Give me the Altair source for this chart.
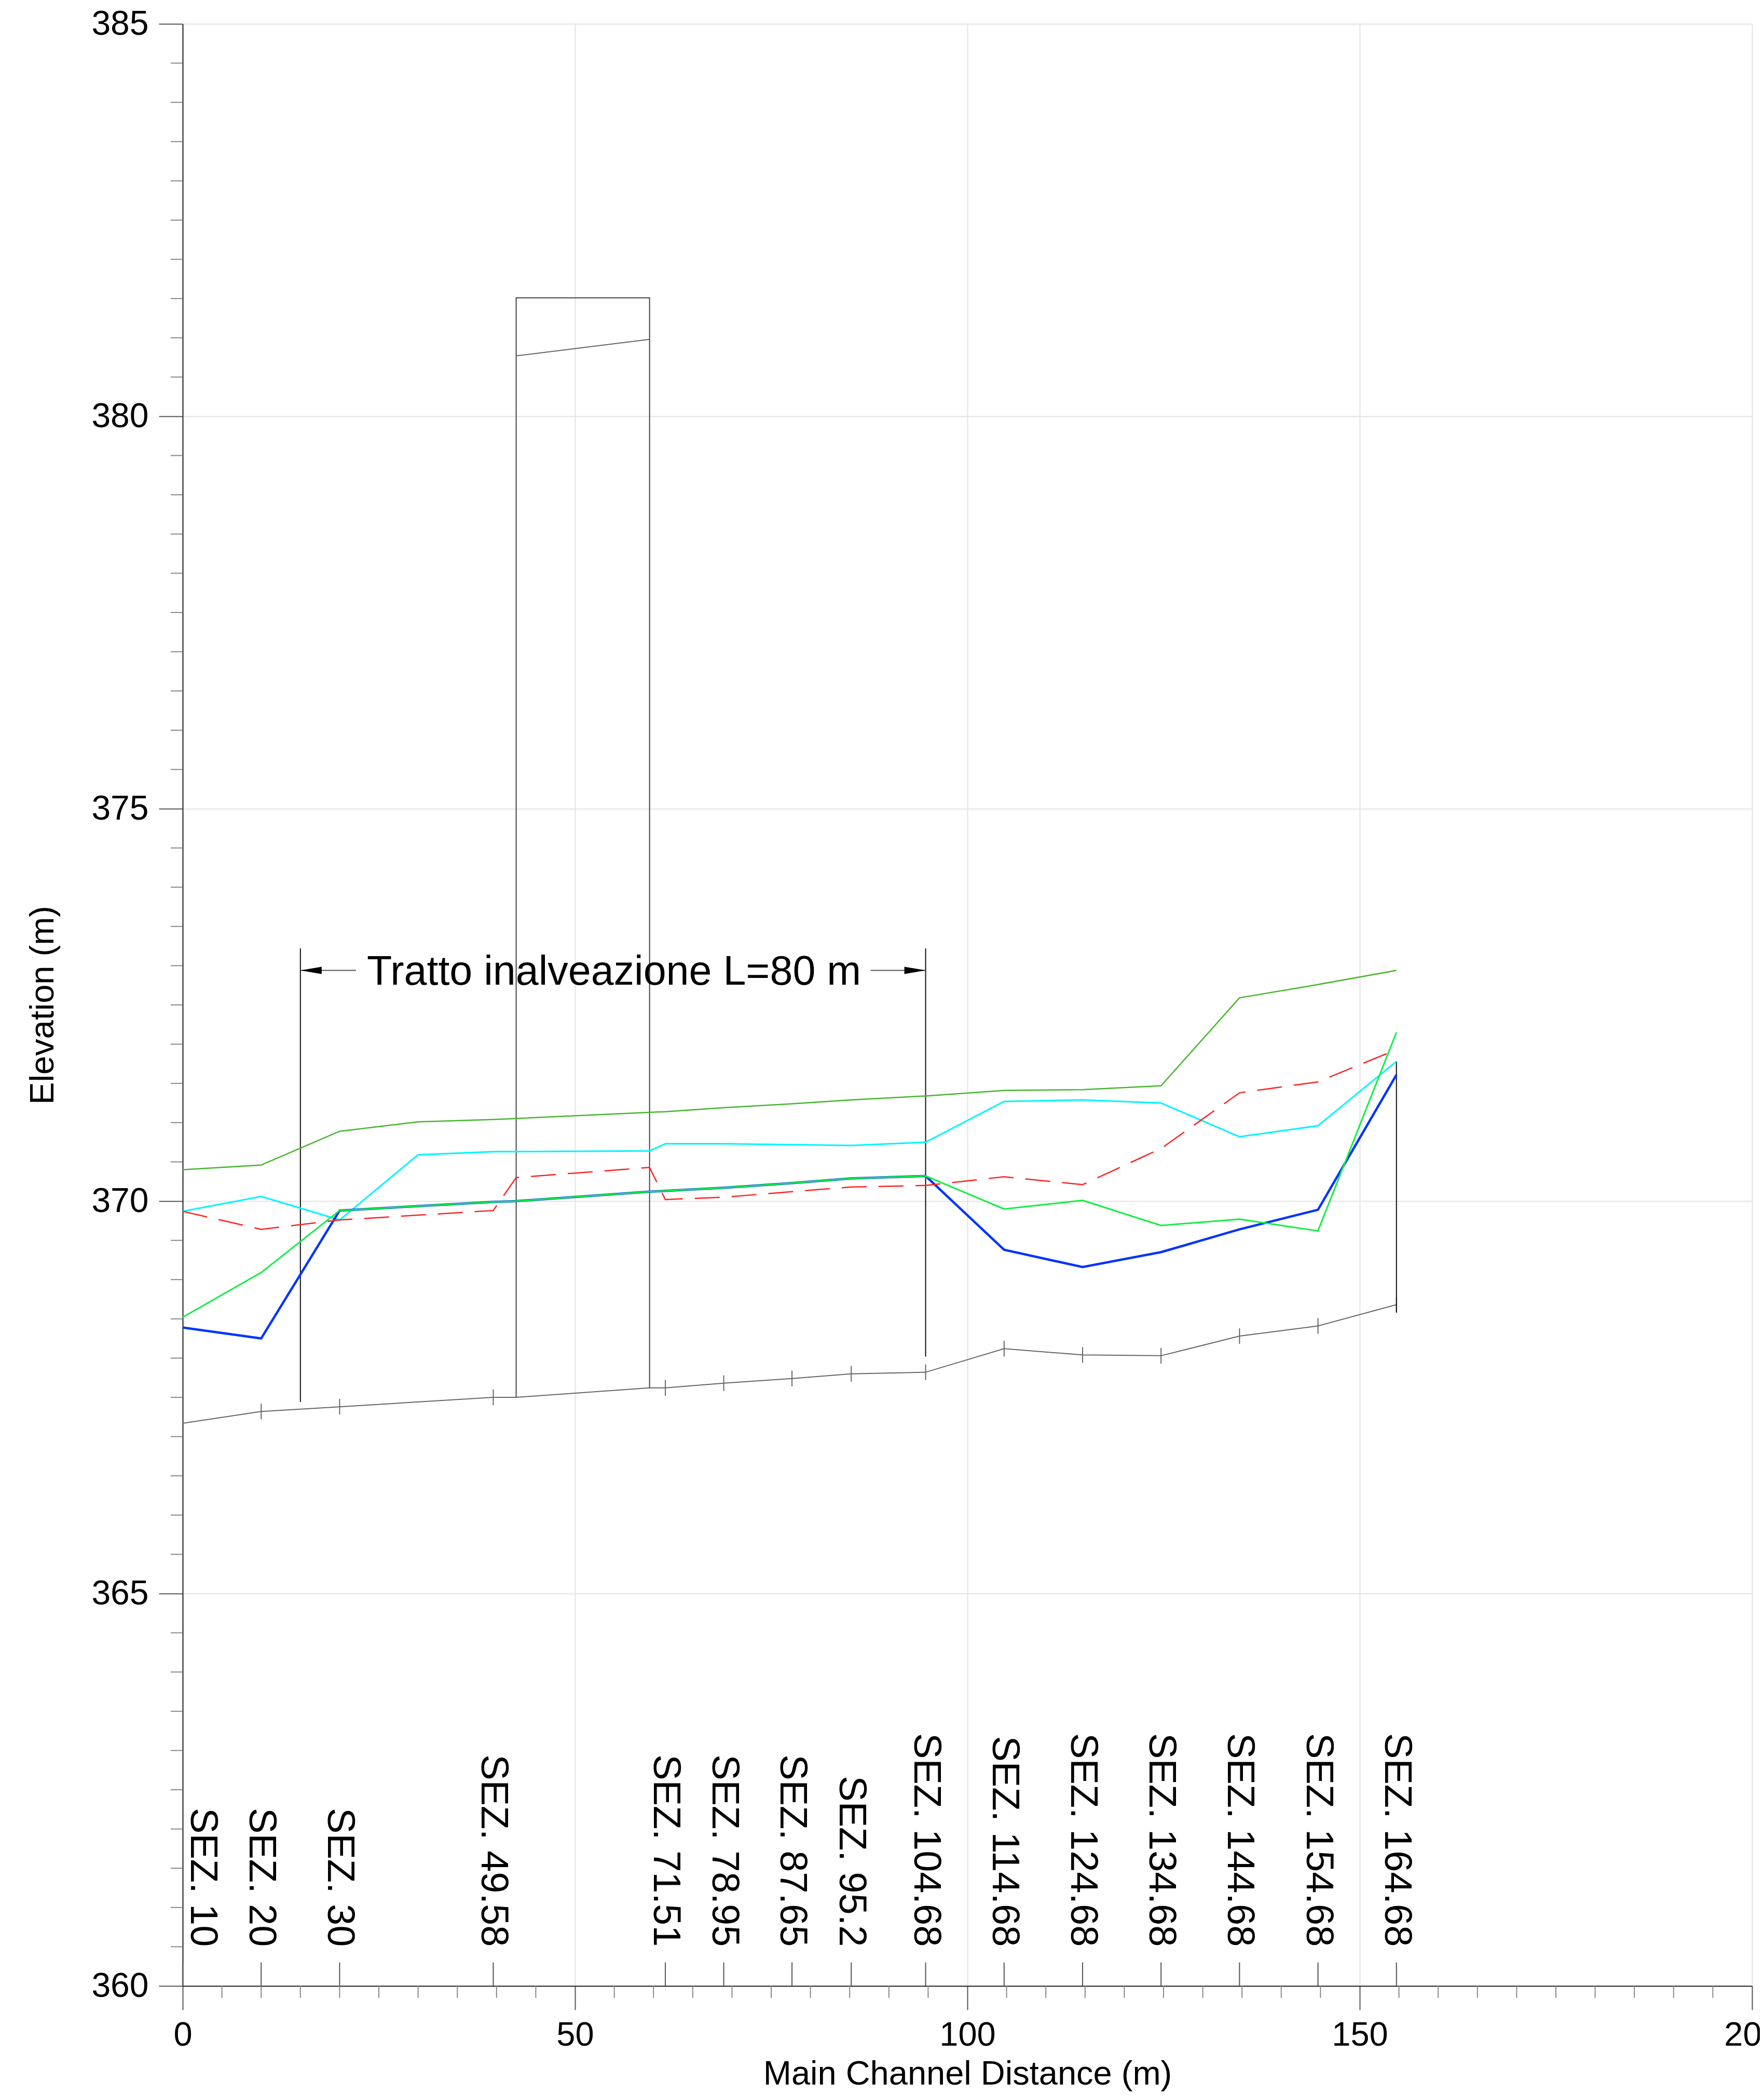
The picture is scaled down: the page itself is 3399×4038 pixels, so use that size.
import altair as alt
import pandas as pd

FONT = "Liberation Sans"

# ---------------- data ----------------
# cross sections: station along main channel (m) and their labels
sec_x = [0, 10, 20, 39.58, 61.51, 68.95, 77.65, 85.2, 94.68,
         104.68, 114.68, 124.68, 134.68, 144.68, 154.68]
sec_lbl = ["SEZ. 10", "SEZ. 20", "SEZ. 30", "SEZ. 49.58", "SEZ. 71.51",
           "SEZ. 78.95", "SEZ. 87.65", "SEZ. 95.2", "SEZ. 104.68",
           "SEZ. 114.68", "SEZ. 124.68", "SEZ. 134.68", "SEZ. 144.68",
           "SEZ. 154.68", "SEZ. 164.68"]

# ground (channel bed) profile
ground_x = [0, 10, 20, 39.58, 42.5, 59.5, 61.51, 68.95, 77.65, 85.2, 94.68,
            104.68, 114.68, 124.68, 134.68, 144.68, 154.68]
ground_y = [367.17, 367.32, 367.38, 367.50, 367.50, 367.62, 367.62, 367.68,
            367.74, 367.80, 367.82, 368.12, 368.04, 368.03, 368.28, 368.41, 368.68]

# water surface profiles
ws_x = [0, 10, 20, 39.58, 42.5, 59.5, 61.51, 68.95, 77.65, 85.2, 94.68,
        104.68, 114.68, 124.68, 134.68, 144.68, 154.68]
ws_blue = [368.39, 368.25, 369.88, 369.99, 370.00, 370.12, 370.13, 370.17,
           370.23, 370.29, 370.32, 369.38, 369.16, 369.35, 369.64, 369.89, 371.61]
ws_green = [368.52, 369.09, 369.88, 369.99, 370.00, 370.12, 370.13, 370.17,
            370.23, 370.29, 370.32, 369.90, 370.01, 369.69, 369.77, 369.62, 372.15]

# critical depth (red dashed)
red_x = [0, 10, 20, 39.58, 42.5, 59.5, 61.51, 68.95, 77.65, 85.2, 94.68,
         104.68, 114.68, 124.68, 134.68, 144.68, 154.68]
red_y = [369.87, 369.64, 369.76, 369.88, 370.30, 370.43, 370.02, 370.05,
         370.12, 370.18, 370.20, 370.31, 370.21, 370.67, 371.38, 371.52, 371.93]

# cyan profile
cyan_x = [0, 10, 20, 30, 39.58, 59.5, 61.51, 68.95, 77.65, 85.2, 94.68,
          104.68, 114.68, 124.68, 134.68, 144.68, 154.68]
cyan_y = [369.87, 370.06, 369.76, 370.59, 370.63, 370.64, 370.73, 370.73,
          370.72, 370.71, 370.75, 371.27, 371.29, 371.25, 370.82, 370.96, 371.78]

# energy grade line (upper green)
eg_x = [0, 10, 20, 30, 39.58, 61.51, 68.95, 77.65, 85.2, 94.68,
        104.68, 114.68, 124.68, 134.68, 144.68, 154.68]
eg_y = [370.40, 370.46, 370.89, 371.01, 371.04, 371.14, 371.19, 371.24,
        371.29, 371.34, 371.41, 371.42, 371.47, 372.59, 372.76, 372.94]

# bridge deck
deck_x = [42.5, 42.5, 59.5, 59.5]
deck_y = [367.50, 381.51, 381.51, 367.62]
chord_x = [42.5, 59.5]
chord_y = [380.77, 380.98]

# annotation "Tratto inalveazione"
mark_x = [15, 94.68, 154.68]
mark_y0 = [367.44, 368.02, 368.58]
mark_y1 = [373.22, 373.22, 371.78]
shaft_x0 = [15, 87.67]
shaft_x1 = [22.09, 94.68]
arrow_level = 372.94
arrow_x = [15, 94.68]
arrow_dir = ["left", "right"]
note_x = 54.96
note_y = 372.76
note_text = "Tratto inalveazione L=80 m"

# axis ticks
x_major = [0, 50, 100, 150, 200]
x_minor = [v for v in range(5, 200, 5) if v % 50]
y_major = [360, 365, 370, 375, 380, 385]
y_minor = [360 + 0.5 * i for i in range(1, 50) if i % 10]

# ---------------- chart ----------------
W, H = 3024, 3780

xscale = alt.Scale(domain=[0, 200], nice=False, zero=False)
yscale = alt.Scale(domain=[360, 385], nice=False, zero=False)

x_axis = alt.Axis(values=x_major, tickSize=46, tickWidth=2, tickColor="#555555",
                  domainColor="#222222", domainWidth=2,
                  labelFontSize=65, labelPadding=17, labelFlush=False,
                  labelOverlap=False, labelColor="black", labelFont=FONT,
                  grid=True, gridColor="#e4e4e4", gridWidth=2,
                  titleFontSize=65, titleFont=FONT, titleFontWeight="normal",
                  titleColor="black", titleX=W / 2, titleY=189,
                  titleBaseline="alphabetic", titleAlign="center")
y_axis = alt.Axis(values=y_major, tickSize=46, tickWidth=2, tickColor="#555555",
                  domainColor="#222222", domainWidth=2,
                  labelFontSize=66, labelPadding=20, labelFlush=False,
                  labelOverlap=False, labelColor="black", labelFont=FONT,
                  grid=True, gridColor="#e4e4e4", gridWidth=2,
                  titleFontSize=65, titleFont=FONT, titleFontWeight="normal",
                  titleColor="black", titleAngle=270, titleX=-250, titleY=H / 2,
                  titleBaseline="alphabetic", titleAlign="center")


def ex(field):
    return alt.X(f"{field}:Q", scale=xscale, axis=x_axis,
                 title="Main Channel Distance (m)")


def ey(field):
    return alt.Y(f"{field}:Q", scale=yscale, axis=y_axis, title="Elevation (m)")


def line(xs, ys, color, width, dash=None):
    df = pd.DataFrame({"x": xs, "y": ys})
    kw = dict(color=color, strokeWidth=width, clip=False)
    if dash:
        kw["strokeDash"] = dash
    return alt.Chart(df).mark_line(**kw).encode(x=ex("x"), y=ey("y"))


layers = []

# minor ticks
layers.append(alt.Chart(pd.DataFrame({"v": y_minor})).mark_rule(
    color="#888888", strokeWidth=2).encode(
    y=ey("v"), x=alt.value(-23), x2=alt.value(0)))
layers.append(alt.Chart(pd.DataFrame({"v": x_minor})).mark_rule(
    color="#888888", strokeWidth=2).encode(
    x=ex("v"), y=alt.value(H), y2=alt.value(H + 23)))

# ground line and section marks on it
layers.append(line(ground_x, ground_y, "#666666", 2))
gmap = dict(zip(ground_x, ground_y))
gt = pd.DataFrame({"x": sec_x[1:],
                   "y0": [gmap[v] - 0.1 for v in sec_x[1:]],
                   "y1": [gmap[v] + 0.1 for v in sec_x[1:]]})
layers.append(alt.Chart(gt).mark_rule(color="#666666", strokeWidth=2).encode(
    x=ex("x"), y=ey("y0"), y2="y1:Q"))

# bridge
deck = pd.DataFrame({"x": deck_x, "y": deck_y, "i": list(range(len(deck_x)))})
layers.append(alt.Chart(deck).mark_line(color="#444444", strokeWidth=2).encode(
    x=ex("x"), y=ey("y"), order="i:Q"))
layers.append(line(chord_x, chord_y, "#666666", 2))

# annotation lines
mk = pd.DataFrame({"x": mark_x, "y0": mark_y0, "y1": mark_y1})
layers.append(alt.Chart(mk).mark_rule(color="#111111", strokeWidth=2).encode(
    x=ex("x"), y=ey("y0"), y2="y1:Q"))
sh = pd.DataFrame({"x0": shaft_x0, "x1": shaft_x1, "y": [arrow_level] * 2})
layers.append(alt.Chart(sh).mark_rule(color="#555555", strokeWidth=2).encode(
    x=ex("x0"), x2="x1:Q", y=ey("y")))

# profiles
layers.append(line(eg_x, eg_y, "#44B62C", 2.5))
layers.append(line(cyan_x, cyan_y, "#00F5FF", 3))
layers.append(line(ws_x, ws_blue, "#0033FF", 4.5))
layers.append(line(ws_x, ws_green, "#12EE44", 3))
layers.append(line(red_x, red_y, "#FF2222", 2.5, dash=[48, 23]))

# arrow heads
for ax_, d in zip(arrow_x, arrow_dir):
    shape = "M0,0L1,-0.17L1,0.17Z" if d == "left" else "M0,0L-1,-0.17L-1,0.17Z"
    layers.append(alt.Chart(pd.DataFrame({"x": [ax_], "y": [arrow_level]})).mark_point(
        shape=shape, size=6724, filled=True, color="black", opacity=1,
        strokeWidth=0).encode(x=ex("x"), y=ey("y")))

# note text
layers.append(alt.Chart(pd.DataFrame({"x": [note_x], "y": [note_y], "t": [note_text]})).mark_text(
    font=FONT, fontSize=79, color="black", align="center", baseline="alphabetic").encode(
    x=ex("x"), y=ey("y"), text="t:N"))

# section labels (first one kept inside the plot, others centred on their station)
lab_first = pd.DataFrame({"x": sec_x[:1], "t": sec_lbl[:1], "y": [360.5]})
layers.append(alt.Chart(lab_first).mark_text(
    font=FONT, fontSize=74, color="black", angle=90, align="right",
    baseline="alphabetic", dy=-16).encode(x=ex("x"), y=ey("y"), text="t:N"))
lab = pd.DataFrame({"x": sec_x[1:], "t": sec_lbl[1:], "y": [360.5] * (len(sec_x) - 1)})
layers.append(alt.Chart(lab).mark_text(
    font=FONT, fontSize=74, color="black", angle=90, align="right",
    baseline="middle").encode(x=ex("x"), y=ey("y"), text="t:N"))
st = pd.DataFrame({"x": sec_x, "y0": [360] * len(sec_x), "y1": [360.3] * len(sec_x)})
layers.append(alt.Chart(st).mark_rule(color="#555555", strokeWidth=2).encode(
    x=ex("x"), y=ey("y0"), y2="y1:Q"))

chart = alt.layer(*layers).properties(
    width=W, height=H,
    padding={"left": 344, "top": 38, "right": 15, "bottom": 204},
    autosize=alt.AutoSizeParams(type="none"),
).configure(font=FONT).configure_view(stroke=None)

chart.save("out.html", embed_options={"renderer": "svg", "actions": False})
